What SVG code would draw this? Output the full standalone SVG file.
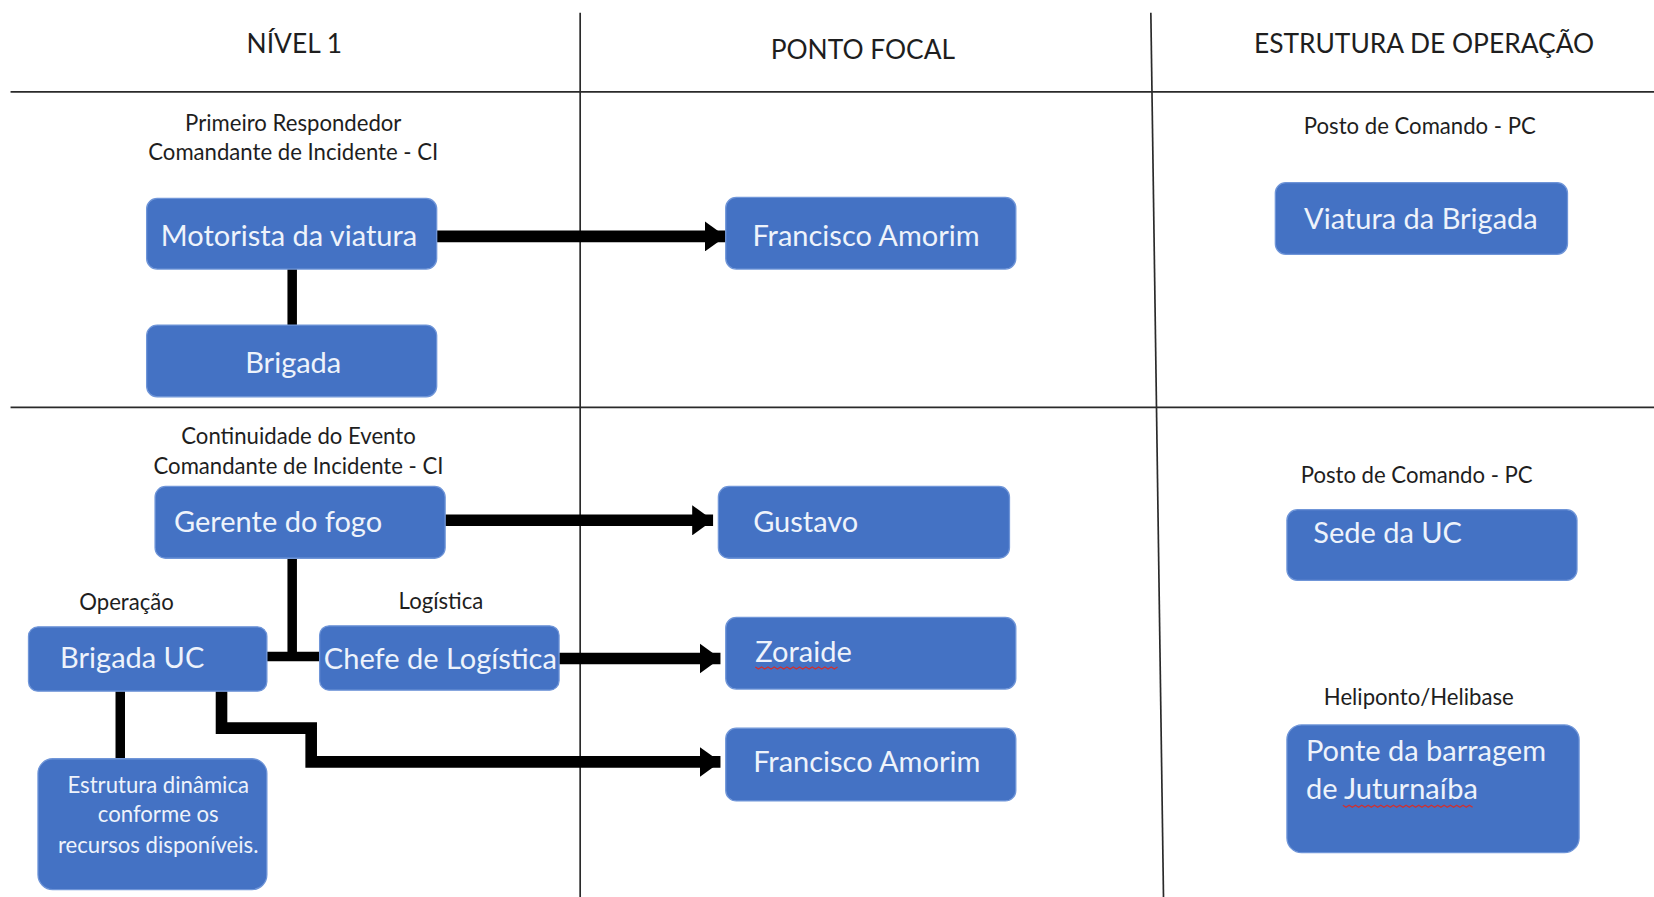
<svg xmlns="http://www.w3.org/2000/svg" width="1654" height="897" viewBox="0 0 1654 897">
<defs>
<style>
.grid{stroke:#2a2a2a;stroke-width:1.6;fill:none}
.box{fill:#4472C4;stroke:#6f95d8;stroke-width:1.2}
.bt{font-family:Lato,"Liberation Sans",sans-serif;font-size:27.5px;fill:#eef3fb}
.hd{font-family:Lato,"Liberation Sans",sans-serif;font-size:25px;fill:#1e1e1e}
.lb{font-family:Lato,"Liberation Sans",sans-serif;font-size:21px;fill:#1e1e1e}
.st{font-family:Lato,"Liberation Sans",sans-serif;font-size:21px;fill:#eef3fb}
.ln{stroke:#000;stroke-width:9;fill:none}
.thick{stroke:#000;stroke-width:11;fill:none}
.sq{stroke:#d03030;stroke-width:1.2;fill:none}
</style>
<marker id="ah" markerWidth="1.8" markerHeight="2.6" refX="1.8" refY="1.3" orient="auto" markerUnits="strokeWidth">
<path d="M0,0 L1.8,1.3 L0,2.6 z" fill="#000"/>
</marker>
</defs>
<rect width="1654" height="897" fill="#ffffff"/>
<g transform="scale(1.05485,1.05529)">
<g id="grid">
<line class="grid" x1="10" y1="87" x2="1568" y2="87"/>
<line class="grid" x1="10" y1="386" x2="1568" y2="386"/>
<line class="grid" x1="550" y1="12" x2="550" y2="850"/>
<line class="grid" x1="1091" y1="12" x2="1103" y2="850"/>
</g>
<g id="headers">
<text class="hd" x="279" y="50" text-anchor="middle">NÍVEL 1</text>
<text class="hd" x="818" y="56" text-anchor="middle">PONTO FOCAL</text>
<text class="hd" x="1350" y="50" text-anchor="middle">ESTRUTURA  DE OPERAÇÃO</text>
</g>
<g id="labels">
<text class="lb" x="278" y="124" text-anchor="middle">Primeiro Respondedor</text>
<text class="lb" x="278" y="152" text-anchor="middle">Comandante de Incidente - CI</text>
<text class="lb" x="1346" y="127" text-anchor="middle">Posto de Comando - PC</text>
<text class="lb" x="283" y="421" text-anchor="middle">Continuidade do Evento</text>
<text class="lb" x="283" y="449" text-anchor="middle">Comandante de Incidente - CI</text>
<text class="lb" x="120" y="578" text-anchor="middle">Operação</text>
<text class="lb" x="418" y="577" text-anchor="middle">Logística</text>
<text class="lb" x="1343" y="458" text-anchor="middle">Posto de Comando - PC</text>
<text class="lb" x="1345" y="668" text-anchor="middle">Heliponto/Helibase</text>
</g>
<g id="connectors">
<line class="thick" x1="414" y1="224" x2="688" y2="224" marker-end="url(#ah)"/>
<line class="ln" x1="277" y1="255" x2="277" y2="308"/>
<line class="thick" x1="422" y1="493" x2="676" y2="493" marker-end="url(#ah)"/>
<polyline class="ln" points="277,529 277,622"/>
<line class="ln" x1="253" y1="622" x2="303" y2="622"/>
<line class="thick" x1="530" y1="624" x2="683" y2="624" marker-end="url(#ah)"/>
<line class="ln" x1="114" y1="655" x2="114" y2="719"/>
<polyline class="thick" points="210,655 210,690 295,690 295,722 683,722" marker-end="url(#ah)"/>
</g>
<g id="n-motorista"><rect class="box" x="139" y="188" width="275" height="67" rx="10"/><text class="bt" x="274" y="233" text-anchor="middle">Motorista da viatura</text></g>
<g id="n-brigada"><rect class="box" x="139" y="308" width="275" height="68" rx="10"/><text class="bt" x="278" y="353" text-anchor="middle">Brigada</text></g>
<g id="n-francisco1"><rect class="box" x="688" y="187" width="275" height="68" rx="10"/><text class="bt" x="821" y="233" text-anchor="middle">Francisco Amorim</text></g>
<g id="n-viatura"><rect class="box" x="1209" y="173" width="277" height="68" rx="10"/><text class="bt" x="1347" y="217" text-anchor="middle">Viatura da Brigada</text></g>
<g id="n-gerente"><rect class="box" x="147" y="461" width="275" height="68" rx="10"/><text class="bt" x="165" y="504">Gerente do fogo</text></g>
<g id="n-gustavo"><rect class="box" x="681" y="461" width="276" height="68" rx="10"/><text class="bt" x="714" y="504">Gustavo</text></g>
<g id="n-brigadauc"><rect class="box" x="27" y="594" width="226" height="61" rx="9"/><text class="bt" x="57" y="633">Brigada UC</text></g>
<g id="n-chefe"><rect class="box" x="303" y="593" width="227" height="61" rx="9"/><text class="bt" x="307" y="634">Chefe de Logística</text></g>
<g id="n-zoraide"><rect class="box" x="688" y="585" width="275" height="68" rx="10"/><text class="bt" x="716" y="627">Zoraide</text><path class="sq" d="M716,632 l3,2 l3,-2 l3,2 l3,-2 l3,2 l3,-2 l3,2 l3,-2 l3,2 l3,-2 l3,2 l3,-2 l3,2 l3,-2 l3,2 l3,-2 l3,2 l3,-2 l3,2 l3,-2 l3,2 l3,-2 l3,2 l3,-2 l3,2 l3,-2"/></g>
<g id="n-francisco2"><rect class="box" x="688" y="690" width="275" height="69" rx="10"/><text class="bt" x="714" y="732">Francisco Amorim</text></g>
<g id="n-estrutura"><rect class="box" x="36" y="719" width="217" height="124" rx="14"/>
<text class="st" x="150" y="751" text-anchor="middle">Estrutura dinâmica</text>
<text class="st" x="150" y="779" text-anchor="middle">conforme os</text>
<text class="st" x="150" y="808" text-anchor="middle">recursos disponíveis.</text></g>
<g id="n-sede"><rect class="box" x="1220" y="483" width="275" height="67" rx="10"/><text class="bt" x="1245" y="515">Sede da UC</text></g>
<g id="n-ponte"><rect class="box" x="1220" y="687" width="277" height="121" rx="14"/>
<text class="bt" x="1238" y="721">Ponte da barragem</text>
<text class="bt" x="1238" y="757">de Juturnaíba</text>
<path class="sq" d="M1273,763 l3,2 l3,-2 l3,2 l3,-2 l3,2 l3,-2 l3,2 l3,-2 l3,2 l3,-2 l3,2 l3,-2 l3,2 l3,-2 l3,2 l3,-2 l3,2 l3,-2 l3,2 l3,-2 l3,2 l3,-2 l3,2 l3,-2 l3,2 l3,-2 l3,2 l3,-2 l3,2 l3,-2 l3,2 l3,-2 l3,2 l3,-2 l3,2 l3,-2 l3,2 l3,-2 l3,2 l3,-2 l3,2"/></g>
</g>
</svg>
